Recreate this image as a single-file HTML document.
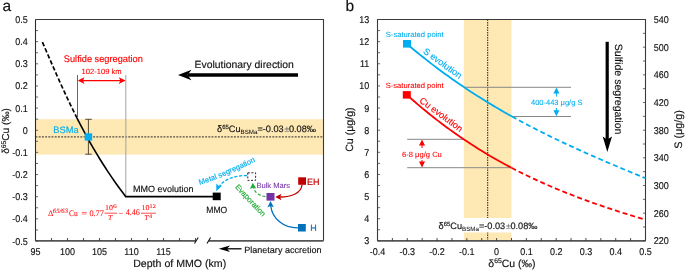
<!DOCTYPE html>
<html><head><meta charset="utf-8"><style>
html,body{margin:0;padding:0;background:#fff;}
svg{display:block;font-family:"Liberation Sans", sans-serif;text-rendering:geometricPrecision;will-change:transform;}
</style></head><body>
<svg width="685" height="271" viewBox="0 0 685 271">
<rect x="35.5" y="119.17" width="288.0" height="35.44" fill="#FEE9B5"/>
<line x1="35.5" y1="136.90" x2="323.5" y2="136.90" stroke="#5a5245" stroke-width="1.2" stroke-dasharray="2,1.2"/>
<path d="M35.5,19.5 H323.5 V240.85" fill="none" stroke="#3a3a3a" stroke-width="1.1"/>
<path d="M35.5,19.5 V240.85" fill="none" stroke="#2a2a2a" stroke-width="1.1"/>
<path d="M323.5,240.85 H208.8 M195.8,240.85 H35.5" fill="none" stroke="#555" stroke-width="1.6"/>
<path d="M194.5,243.5 L198.2,237.5 M207,243.5 L210.6,237.5" stroke="#111" stroke-width="1.1"/>
<line x1="35.50" y1="240.85" x2="35.50" y2="238.04999999999998" stroke="#333" stroke-width="0.9"/>
<line x1="51.50" y1="240.85" x2="51.50" y2="238.04999999999998" stroke="#333" stroke-width="0.9"/>
<line x1="67.50" y1="240.85" x2="67.50" y2="238.04999999999998" stroke="#333" stroke-width="0.9"/>
<line x1="83.50" y1="240.85" x2="83.50" y2="238.04999999999998" stroke="#333" stroke-width="0.9"/>
<line x1="99.50" y1="240.85" x2="99.50" y2="238.04999999999998" stroke="#333" stroke-width="0.9"/>
<line x1="115.50" y1="240.85" x2="115.50" y2="238.04999999999998" stroke="#333" stroke-width="0.9"/>
<line x1="131.50" y1="240.85" x2="131.50" y2="238.04999999999998" stroke="#333" stroke-width="0.9"/>
<line x1="147.50" y1="240.85" x2="147.50" y2="238.04999999999998" stroke="#333" stroke-width="0.9"/>
<line x1="163.50" y1="240.85" x2="163.50" y2="238.04999999999998" stroke="#333" stroke-width="0.9"/>
<line x1="179.50" y1="240.85" x2="179.50" y2="238.04999999999998" stroke="#333" stroke-width="0.9"/>
<line x1="195.50" y1="240.85" x2="195.50" y2="238.04999999999998" stroke="#333" stroke-width="0.9"/>
<line x1="35.5" y1="241.00" x2="38.1" y2="241.00" stroke="#444" stroke-width="0.8"/>
<line x1="35.5" y1="229.93" x2="38.1" y2="229.93" stroke="#444" stroke-width="0.8"/>
<line x1="35.5" y1="218.85" x2="38.1" y2="218.85" stroke="#444" stroke-width="0.8"/>
<line x1="35.5" y1="207.78" x2="38.1" y2="207.78" stroke="#444" stroke-width="0.8"/>
<line x1="35.5" y1="196.70" x2="38.1" y2="196.70" stroke="#444" stroke-width="0.8"/>
<line x1="35.5" y1="185.62" x2="38.1" y2="185.62" stroke="#444" stroke-width="0.8"/>
<line x1="35.5" y1="174.55" x2="38.1" y2="174.55" stroke="#444" stroke-width="0.8"/>
<line x1="35.5" y1="163.47" x2="38.1" y2="163.47" stroke="#444" stroke-width="0.8"/>
<line x1="35.5" y1="152.40" x2="38.1" y2="152.40" stroke="#444" stroke-width="0.8"/>
<line x1="35.5" y1="141.32" x2="38.1" y2="141.32" stroke="#444" stroke-width="0.8"/>
<line x1="35.5" y1="130.25" x2="38.1" y2="130.25" stroke="#444" stroke-width="0.8"/>
<line x1="35.5" y1="119.17" x2="38.1" y2="119.17" stroke="#444" stroke-width="0.8"/>
<line x1="35.5" y1="108.10" x2="38.1" y2="108.10" stroke="#444" stroke-width="0.8"/>
<line x1="35.5" y1="97.03" x2="38.1" y2="97.03" stroke="#444" stroke-width="0.8"/>
<line x1="35.5" y1="85.95" x2="38.1" y2="85.95" stroke="#444" stroke-width="0.8"/>
<line x1="35.5" y1="74.88" x2="38.1" y2="74.88" stroke="#444" stroke-width="0.8"/>
<line x1="35.5" y1="63.80" x2="38.1" y2="63.80" stroke="#444" stroke-width="0.8"/>
<line x1="35.5" y1="52.72" x2="38.1" y2="52.72" stroke="#444" stroke-width="0.8"/>
<line x1="35.5" y1="41.65" x2="38.1" y2="41.65" stroke="#444" stroke-width="0.8"/>
<line x1="35.5" y1="30.58" x2="38.1" y2="30.58" stroke="#444" stroke-width="0.8"/>
<line x1="35.5" y1="19.50" x2="38.1" y2="19.50" stroke="#444" stroke-width="0.8"/>
<text transform="translate(35.50,255) scale(0.91,1)" font-size="9.9" text-anchor="middle" fill="#111" stroke="#111" stroke-width="0.15">95</text>
<text transform="translate(67.50,255) scale(0.91,1)" font-size="9.9" text-anchor="middle" fill="#111" stroke="#111" stroke-width="0.15">100</text>
<text transform="translate(99.50,255) scale(0.91,1)" font-size="9.9" text-anchor="middle" fill="#111" stroke="#111" stroke-width="0.15">105</text>
<text transform="translate(131.50,255) scale(0.91,1)" font-size="9.9" text-anchor="middle" fill="#111" stroke="#111" stroke-width="0.15">110</text>
<text transform="translate(163.50,255) scale(0.91,1)" font-size="9.9" text-anchor="middle" fill="#111" stroke="#111" stroke-width="0.15">115</text>
<text transform="translate(27.7,244.50) scale(0.91,1)" font-size="9.9" text-anchor="end" fill="#111" stroke="#111" stroke-width="0.15">-0.5</text>
<text transform="translate(27.7,222.35) scale(0.91,1)" font-size="9.9" text-anchor="end" fill="#111" stroke="#111" stroke-width="0.15">-0.4</text>
<text transform="translate(27.7,200.20) scale(0.91,1)" font-size="9.9" text-anchor="end" fill="#111" stroke="#111" stroke-width="0.15">-0.3</text>
<text transform="translate(27.7,178.05) scale(0.91,1)" font-size="9.9" text-anchor="end" fill="#111" stroke="#111" stroke-width="0.15">-0.2</text>
<text transform="translate(27.7,155.90) scale(0.91,1)" font-size="9.9" text-anchor="end" fill="#111" stroke="#111" stroke-width="0.15">-0.1</text>
<text transform="translate(27.7,133.75) scale(0.91,1)" font-size="9.9" text-anchor="end" fill="#111" stroke="#111" stroke-width="0.15">0</text>
<text transform="translate(27.7,111.60) scale(0.91,1)" font-size="9.9" text-anchor="end" fill="#111" stroke="#111" stroke-width="0.15">0.1</text>
<text transform="translate(27.7,89.45) scale(0.91,1)" font-size="9.9" text-anchor="end" fill="#111" stroke="#111" stroke-width="0.15">0.2</text>
<text transform="translate(27.7,67.30) scale(0.91,1)" font-size="9.9" text-anchor="end" fill="#111" stroke="#111" stroke-width="0.15">0.3</text>
<text transform="translate(27.7,45.15) scale(0.91,1)" font-size="9.9" text-anchor="end" fill="#111" stroke="#111" stroke-width="0.15">0.4</text>
<text transform="translate(27.7,23.00) scale(0.91,1)" font-size="9.9" text-anchor="end" fill="#111" stroke="#111" stroke-width="0.15">0.5</text>
<text x="179.7" y="266.8" font-size="10.6" text-anchor="middle" fill="#111" stroke="#111" stroke-width="0.15">Depth of MMO (km)</text>
<text transform="translate(9.3,131) rotate(-90)" font-size="10.1" text-anchor="middle" fill="#111" stroke="#111" stroke-width="0.15">δ<tspan font-size="6.8" dy="-3.5">65</tspan><tspan dy="3.5">Cu (‰)</tspan></text>
<text x="2.5" y="11" font-size="15.5" fill="#111" stroke="#111" stroke-width="0.15">a</text>
<line x1="77.5" y1="75" x2="77.5" y2="117" stroke="#555" stroke-width="0.9"/>
<line x1="125.8" y1="75" x2="125.8" y2="196.5" stroke="#aaa" stroke-width="1.1"/>
<text x="63.8" y="62" font-size="9.5" fill="#FF0000" stroke="#FF0000" stroke-width="0.15" textLength="79" lengthAdjust="spacingAndGlyphs">Sulfide segregation</text>
<text x="81.5" y="74" font-size="7.6" fill="#FF0000" stroke="#FF0000" stroke-width="0.08">102-109 km</text>
<line x1="79" y1="80.6" x2="124.5" y2="80.6" stroke="#FF0000" stroke-width="1.2"/>
<path d="M77.8,80.6 L84.5,77.3 L83,80.6 L84.5,83.9 Z M125.5,80.6 L118.8,77.3 L120.3,80.6 L118.8,83.9 Z" fill="#FF0000"/>
<polyline points="42.44,42.20 43.57,44.81 44.71,47.41 45.84,50.02 46.97,52.63 48.10,55.23 49.23,57.84 50.37,60.45 51.50,63.06 52.64,65.66 53.79,68.27 54.93,70.88 56.09,73.48 57.24,76.09 58.41,78.70 59.57,81.30 60.75,83.91 61.93,86.52 63.12,89.12 64.32,91.73 65.53,94.34 66.75,96.94 67.97,99.55 69.21,102.16 70.46,104.77 71.72,107.37 72.99,109.98 74.28,112.59 75.57,115.19 76.88,117.80" stroke="#000" stroke-width="1.7" stroke-dasharray="4.4,2.2" fill="none"/>
<polyline points="76.88,117.80 77.91,119.82 78.95,121.84 79.99,123.86 81.04,125.88 82.10,127.90 83.18,129.92 84.26,131.94 85.35,133.96 86.46,135.98 87.57,138.01 88.70,140.03 89.83,142.05 90.98,144.07 92.14,146.09 93.31,148.11 94.50,150.13 95.69,152.15 96.90,154.17 98.12,156.19 99.36,158.21 100.61,160.23 101.87,162.25 103.15,164.27 104.44,166.29 105.75,168.31 107.07,170.33 108.40,172.35 109.76,174.37 111.12,176.39 112.51,178.42 113.90,180.44 115.32,182.46 116.75,184.48 118.20,186.50 119.66,188.52 121.15,190.54 122.65,192.56 124.16,194.58 125.70,196.60 213,196.6" stroke="#000" stroke-width="1.6" fill="none" stroke-linejoin="miter"/>
<path d="M88.4,119.3 V154.2 M85.2,119.3 H91.8 M85.2,154.2 H91.8" stroke="#4a4028" stroke-width="0.95" fill="none"/>
<rect x="84.7" y="133.3" width="7.5" height="7.3" fill="#00AEEF"/>
<text x="53.3" y="133.1" font-size="9.3" fill="#00AEEF" stroke="#00AEEF" stroke-width="0.15">BSMa</text>
<rect x="212.7" y="192.6" width="8" height="7.6" fill="#000"/>
<text x="133" y="191.6" font-size="9" fill="#111" stroke="#111" stroke-width="0.15">MMO evolution</text>
<text x="206.3" y="212.5" font-size="9" textLength="21" lengthAdjust="spacingAndGlyphs" fill="#111" stroke="#111" stroke-width="0.15">MMO</text>
<text x="194.5" y="68" font-size="10.4" fill="#111" stroke="#111" stroke-width="0.15">Evolutionary direction</text>
<line x1="188" y1="75" x2="298" y2="75" stroke="#000" stroke-width="3.4"/>
<path d="M178,75 L191.5,69.8 L187.5,75 L191.5,80.2 Z" fill="#000"/>
<text x="217" y="132.1" font-size="9.2" fill="#111" stroke="#111" stroke-width="0.15">δ<tspan font-size="6" dy="-3.3">65</tspan><tspan dy="3.3">Cu</tspan><tspan font-size="6.2" dy="2" stroke-width="0.05">BSMa</tspan><tspan dy="-2">=-0.03</tspan><tspan fill="#777" stroke="#777" font-size="8.6" dx="0.8">±</tspan><tspan dx="-0.3">0.08‰</tspan></text>
<g font-family="Liberation Serif, serif" fill="#F22" stroke="#F22" stroke-width="0.12"><text x="48" y="215.6" font-size="8.4">Δ</text><text x="52.8" y="212.8" font-size="6.6" font-style="italic" textLength="15.2" lengthAdjust="spacingAndGlyphs">65/63</text><text x="69" y="215.6" font-size="8.6" textLength="8.8" lengthAdjust="spacingAndGlyphs">Cu</text><text x="81.6" y="215.6" font-size="8.6" textLength="5.6" lengthAdjust="spacingAndGlyphs">=</text><text x="89.4" y="215.6" font-size="8.6" textLength="14.5" lengthAdjust="spacingAndGlyphs">0.77</text><text x="104.9" y="209.8" font-size="7.4" textLength="8" lengthAdjust="spacingAndGlyphs">10</text><text x="113" y="207.6" font-size="5.6" textLength="3.8" lengthAdjust="spacingAndGlyphs">6</text><line x1="104.6" y1="213.2" x2="117" y2="213.2" stroke="#F22" stroke-width="0.8"/><text x="108" y="220.4" font-size="7.6" font-style="italic">T</text><text x="118.8" y="215.6" font-size="8.6" textLength="4.4" lengthAdjust="spacingAndGlyphs">−</text><text x="125.7" y="215.4" font-size="8.6" textLength="14.2" lengthAdjust="spacingAndGlyphs">4.46</text><text x="141.4" y="209.8" font-size="7.4" textLength="8" lengthAdjust="spacingAndGlyphs">10</text><text x="149.6" y="207.6" font-size="5.6" textLength="6.2" lengthAdjust="spacingAndGlyphs">12</text><line x1="141" y1="213.2" x2="156" y2="213.2" stroke="#F22" stroke-width="0.8"/><text x="144.2" y="220.4" font-size="7.6" font-style="italic">T</text><text x="149.2" y="217.8" font-size="5.6">4</text></g>
<text x="244.2" y="252.6" font-size="9.05" fill="#111" stroke="#111" stroke-width="0.15">Planetary accretion</text>
<line x1="226" y1="248.8" x2="241.5" y2="248.8" stroke="#000" stroke-width="1.3"/>
<path d="M218.8,248.8 L230,245.6 L227,248.8 L230,252 Z" fill="#000"/>
<rect x="247.8" y="172.8" width="7.8" height="7.6" fill="none" stroke="#111" stroke-width="0.9" stroke-dasharray="2,1.6"/>
<path d="M247,175.5 C236,175.5 225,178.5 219.5,186" stroke="#00AEEF" stroke-width="1.3" fill="none" stroke-dasharray="3.2,1.6"/>
<path d="M216.3,191.3 L216.3,183.6 L218.6,185.8 L222.2,185.4 Z" fill="#00AEEF"/>
<g font-size="7.6" fill="#00AEEF" stroke="#00AEEF" stroke-width="0.16"><text transform="translate(199.87,185.07) rotate(-18.8)">M</text><text transform="translate(205.82,183.03) rotate(-20.0)">e</text><text transform="translate(209.90,181.54) rotate(-20.6)">t</text><text transform="translate(211.87,180.80) rotate(-21.1)">a</text><text transform="translate(215.74,179.30) rotate(-21.6)">l</text><text transform="translate(219.28,177.89) rotate(-22.3)">s</text><text transform="translate(222.92,176.39) rotate(-22.9)">e</text><text transform="translate(226.73,174.78) rotate(-23.4)">g</text><text transform="translate(230.56,173.12) rotate(-23.8)">r</text><text transform="translate(232.89,172.10) rotate(-24.2)">e</text><text transform="translate(236.85,170.32) rotate(-24.6)">g</text><text transform="translate(240.68,168.56) rotate(-25.0)">a</text><text transform="translate(244.45,166.81) rotate(-25.3)">t</text><text transform="translate(246.35,165.91) rotate(-25.4)">i</text><text transform="translate(247.88,165.19) rotate(-25.7)">o</text><text transform="translate(251.77,163.31) rotate(-26.0)">n</text></g>
<path d="M265.5,196.5 C258,196 254,191 253.2,187" stroke="#22AC38" stroke-width="1.2" fill="none" stroke-dasharray="3,2"/>
<path d="M252.8,182.8 L249.8,189 L252.8,187.8 L256.2,188.6 Z" fill="#22AC38"/>
<g stroke="#22AC38" stroke-width="0.2"><text transform="translate(234.8,187.3) rotate(47)" font-size="7.6" fill="#22AC38" stroke="#22AC38" stroke-width="0.2">Evaporation</text></g>
<text x="256.4" y="187.9" font-size="7.6" fill="#7432A6" stroke="#7432A6" stroke-width="0.08">Bulk Mars</text>
<rect x="266.5" y="193" width="8" height="7.6" fill="#7432A6"/>
<rect x="298.2" y="177.3" width="7.8" height="7.5" fill="#C00000"/>
<text x="307" y="184.5" font-size="9" fill="#C00000" stroke="#C00000" stroke-width="0.15">EH</text>
<path d="M302,185 C301,193 292,197 280,197" stroke="#C00000" stroke-width="1.3" fill="none"/>
<path d="M275.2,197 L281.5,193.8 L280,197 L281.5,200.2 Z" fill="#C00000"/>
<rect x="298" y="224" width="7.8" height="7.5" fill="#0072BC"/>
<text x="310.3" y="230.8" font-size="9" fill="#0072BC" stroke="#0072BC" stroke-width="0.15">H</text>
<path d="M298,227.8 C283,228 272,218 270.8,206" stroke="#0072BC" stroke-width="1.3" fill="none"/>
<path d="M270.5,201 L267.4,207.5 L270.6,206 L273.8,207.3 Z" fill="#0072BC"/>
<rect x="463.86" y="19.5" width="47.64" height="221.35" fill="#FEE9B5"/>
<line x1="487.68" y1="19.5" x2="487.68" y2="240.85" stroke="#2a2a2a" stroke-width="1.05" stroke-dasharray="1.6,0.9"/>
<rect x="437" y="218" width="102" height="14.5" fill="#fff"/>
<text x="438.5" y="229.1" font-size="9.2" fill="#111" stroke="#111" stroke-width="0.15">δ<tspan font-size="6" dy="-3.3">65</tspan><tspan dy="3.3">Cu</tspan><tspan font-size="6.2" dy="2" stroke-width="0.05">BSMa</tspan><tspan dy="-2">=-0.03</tspan><tspan fill="#777" stroke="#777" font-size="8.6" dx="0.8">±</tspan><tspan dx="-0.3">0.08‰</tspan></text>
<path d="M377.5,240.85 V19.5 H645.5 V240.85" fill="none" stroke="#3a3a3a" stroke-width="1.1"/>
<path d="M645.5,240.85 H377.5" fill="none" stroke="#555" stroke-width="1.6"/>
<line x1="377.50" y1="240.85" x2="377.50" y2="238.04999999999998" stroke="#333" stroke-width="0.9"/>
<line x1="392.39" y1="240.85" x2="392.39" y2="238.04999999999998" stroke="#333" stroke-width="0.9"/>
<line x1="407.28" y1="240.85" x2="407.28" y2="238.04999999999998" stroke="#333" stroke-width="0.9"/>
<line x1="422.17" y1="240.85" x2="422.17" y2="238.04999999999998" stroke="#333" stroke-width="0.9"/>
<line x1="437.06" y1="240.85" x2="437.06" y2="238.04999999999998" stroke="#333" stroke-width="0.9"/>
<line x1="451.94" y1="240.85" x2="451.94" y2="238.04999999999998" stroke="#333" stroke-width="0.9"/>
<line x1="466.83" y1="240.85" x2="466.83" y2="238.04999999999998" stroke="#333" stroke-width="0.9"/>
<line x1="481.72" y1="240.85" x2="481.72" y2="238.04999999999998" stroke="#333" stroke-width="0.9"/>
<line x1="496.61" y1="240.85" x2="496.61" y2="238.04999999999998" stroke="#333" stroke-width="0.9"/>
<line x1="511.50" y1="240.85" x2="511.50" y2="238.04999999999998" stroke="#333" stroke-width="0.9"/>
<line x1="526.39" y1="240.85" x2="526.39" y2="238.04999999999998" stroke="#333" stroke-width="0.9"/>
<line x1="541.28" y1="240.85" x2="541.28" y2="238.04999999999998" stroke="#333" stroke-width="0.9"/>
<line x1="556.17" y1="240.85" x2="556.17" y2="238.04999999999998" stroke="#333" stroke-width="0.9"/>
<line x1="571.06" y1="240.85" x2="571.06" y2="238.04999999999998" stroke="#333" stroke-width="0.9"/>
<line x1="585.94" y1="240.85" x2="585.94" y2="238.04999999999998" stroke="#333" stroke-width="0.9"/>
<line x1="600.83" y1="240.85" x2="600.83" y2="238.04999999999998" stroke="#333" stroke-width="0.9"/>
<line x1="615.72" y1="240.85" x2="615.72" y2="238.04999999999998" stroke="#333" stroke-width="0.9"/>
<line x1="630.61" y1="240.85" x2="630.61" y2="238.04999999999998" stroke="#333" stroke-width="0.9"/>
<line x1="645.50" y1="240.85" x2="645.50" y2="238.04999999999998" stroke="#333" stroke-width="0.9"/>
<line x1="377.5" y1="240.85" x2="380.1" y2="240.85" stroke="#444" stroke-width="0.8"/>
<line x1="377.5" y1="229.78" x2="380.1" y2="229.78" stroke="#444" stroke-width="0.8"/>
<line x1="377.5" y1="218.72" x2="380.1" y2="218.72" stroke="#444" stroke-width="0.8"/>
<line x1="377.5" y1="207.65" x2="380.1" y2="207.65" stroke="#444" stroke-width="0.8"/>
<line x1="377.5" y1="196.58" x2="380.1" y2="196.58" stroke="#444" stroke-width="0.8"/>
<line x1="377.5" y1="185.51" x2="380.1" y2="185.51" stroke="#444" stroke-width="0.8"/>
<line x1="377.5" y1="174.44" x2="380.1" y2="174.44" stroke="#444" stroke-width="0.8"/>
<line x1="377.5" y1="163.38" x2="380.1" y2="163.38" stroke="#444" stroke-width="0.8"/>
<line x1="377.5" y1="152.31" x2="380.1" y2="152.31" stroke="#444" stroke-width="0.8"/>
<line x1="377.5" y1="141.24" x2="380.1" y2="141.24" stroke="#444" stroke-width="0.8"/>
<line x1="377.5" y1="130.18" x2="380.1" y2="130.18" stroke="#444" stroke-width="0.8"/>
<line x1="377.5" y1="119.11" x2="380.1" y2="119.11" stroke="#444" stroke-width="0.8"/>
<line x1="377.5" y1="108.04" x2="380.1" y2="108.04" stroke="#444" stroke-width="0.8"/>
<line x1="377.5" y1="96.97" x2="380.1" y2="96.97" stroke="#444" stroke-width="0.8"/>
<line x1="377.5" y1="85.91" x2="380.1" y2="85.91" stroke="#444" stroke-width="0.8"/>
<line x1="377.5" y1="74.84" x2="380.1" y2="74.84" stroke="#444" stroke-width="0.8"/>
<line x1="377.5" y1="63.77" x2="380.1" y2="63.77" stroke="#444" stroke-width="0.8"/>
<line x1="377.5" y1="52.70" x2="380.1" y2="52.70" stroke="#444" stroke-width="0.8"/>
<line x1="377.5" y1="41.64" x2="380.1" y2="41.64" stroke="#444" stroke-width="0.8"/>
<line x1="377.5" y1="30.57" x2="380.1" y2="30.57" stroke="#444" stroke-width="0.8"/>
<line x1="377.5" y1="19.50" x2="380.1" y2="19.50" stroke="#444" stroke-width="0.8"/>
<line x1="645.5" y1="240.85" x2="642.9" y2="240.85" stroke="#444" stroke-width="0.8"/>
<line x1="645.5" y1="227.02" x2="642.9" y2="227.02" stroke="#444" stroke-width="0.8"/>
<line x1="645.5" y1="213.18" x2="642.9" y2="213.18" stroke="#444" stroke-width="0.8"/>
<line x1="645.5" y1="199.35" x2="642.9" y2="199.35" stroke="#444" stroke-width="0.8"/>
<line x1="645.5" y1="185.51" x2="642.9" y2="185.51" stroke="#444" stroke-width="0.8"/>
<line x1="645.5" y1="171.68" x2="642.9" y2="171.68" stroke="#444" stroke-width="0.8"/>
<line x1="645.5" y1="157.84" x2="642.9" y2="157.84" stroke="#444" stroke-width="0.8"/>
<line x1="645.5" y1="144.01" x2="642.9" y2="144.01" stroke="#444" stroke-width="0.8"/>
<line x1="645.5" y1="130.18" x2="642.9" y2="130.18" stroke="#444" stroke-width="0.8"/>
<line x1="645.5" y1="116.34" x2="642.9" y2="116.34" stroke="#444" stroke-width="0.8"/>
<line x1="645.5" y1="102.51" x2="642.9" y2="102.51" stroke="#444" stroke-width="0.8"/>
<line x1="645.5" y1="88.67" x2="642.9" y2="88.67" stroke="#444" stroke-width="0.8"/>
<line x1="645.5" y1="74.84" x2="642.9" y2="74.84" stroke="#444" stroke-width="0.8"/>
<line x1="645.5" y1="61.00" x2="642.9" y2="61.00" stroke="#444" stroke-width="0.8"/>
<line x1="645.5" y1="47.17" x2="642.9" y2="47.17" stroke="#444" stroke-width="0.8"/>
<line x1="645.5" y1="33.33" x2="642.9" y2="33.33" stroke="#444" stroke-width="0.8"/>
<line x1="645.5" y1="19.50" x2="642.9" y2="19.50" stroke="#444" stroke-width="0.8"/>
<text transform="translate(377.50,255) scale(0.91,1)" font-size="9.9" text-anchor="middle" fill="#111" stroke="#111" stroke-width="0.15">-0.4</text>
<text transform="translate(407.28,255) scale(0.91,1)" font-size="9.9" text-anchor="middle" fill="#111" stroke="#111" stroke-width="0.15">-0.3</text>
<text transform="translate(437.06,255) scale(0.91,1)" font-size="9.9" text-anchor="middle" fill="#111" stroke="#111" stroke-width="0.15">-0.2</text>
<text transform="translate(466.83,255) scale(0.91,1)" font-size="9.9" text-anchor="middle" fill="#111" stroke="#111" stroke-width="0.15">-0.1</text>
<text transform="translate(496.61,255) scale(0.91,1)" font-size="9.9" text-anchor="middle" fill="#111" stroke="#111" stroke-width="0.15">0</text>
<text transform="translate(526.39,255) scale(0.91,1)" font-size="9.9" text-anchor="middle" fill="#111" stroke="#111" stroke-width="0.15">0.1</text>
<text transform="translate(556.17,255) scale(0.91,1)" font-size="9.9" text-anchor="middle" fill="#111" stroke="#111" stroke-width="0.15">0.2</text>
<text transform="translate(585.94,255) scale(0.91,1)" font-size="9.9" text-anchor="middle" fill="#111" stroke="#111" stroke-width="0.15">0.3</text>
<text transform="translate(615.72,255) scale(0.91,1)" font-size="9.9" text-anchor="middle" fill="#111" stroke="#111" stroke-width="0.15">0.4</text>
<text transform="translate(645.50,255) scale(0.91,1)" font-size="9.9" text-anchor="middle" fill="#111" stroke="#111" stroke-width="0.15">0.5</text>
<text transform="translate(369.3,244.35) scale(0.91,1)" font-size="9.9" text-anchor="end" fill="#111" stroke="#111" stroke-width="0.15">3</text>
<text transform="translate(369.3,222.22) scale(0.91,1)" font-size="9.9" text-anchor="end" fill="#111" stroke="#111" stroke-width="0.15">4</text>
<text transform="translate(369.3,200.08) scale(0.91,1)" font-size="9.9" text-anchor="end" fill="#111" stroke="#111" stroke-width="0.15">5</text>
<text transform="translate(369.3,177.94) scale(0.91,1)" font-size="9.9" text-anchor="end" fill="#111" stroke="#111" stroke-width="0.15">6</text>
<text transform="translate(369.3,155.81) scale(0.91,1)" font-size="9.9" text-anchor="end" fill="#111" stroke="#111" stroke-width="0.15">7</text>
<text transform="translate(369.3,133.68) scale(0.91,1)" font-size="9.9" text-anchor="end" fill="#111" stroke="#111" stroke-width="0.15">8</text>
<text transform="translate(369.3,111.54) scale(0.91,1)" font-size="9.9" text-anchor="end" fill="#111" stroke="#111" stroke-width="0.15">9</text>
<text transform="translate(369.3,89.41) scale(0.91,1)" font-size="9.9" text-anchor="end" fill="#111" stroke="#111" stroke-width="0.15">10</text>
<text transform="translate(369.3,67.27) scale(0.91,1)" font-size="9.9" text-anchor="end" fill="#111" stroke="#111" stroke-width="0.15">11</text>
<text transform="translate(369.3,45.14) scale(0.91,1)" font-size="9.9" text-anchor="end" fill="#111" stroke="#111" stroke-width="0.15">12</text>
<text transform="translate(369.3,23.00) scale(0.91,1)" font-size="9.9" text-anchor="end" fill="#111" stroke="#111" stroke-width="0.15">13</text>
<text transform="translate(653.8,244.35) scale(0.91,1)" font-size="9.9" fill="#111" stroke="#111" stroke-width="0.15">220</text>
<text transform="translate(653.8,216.68) scale(0.91,1)" font-size="9.9" fill="#111" stroke="#111" stroke-width="0.15">260</text>
<text transform="translate(653.8,189.01) scale(0.91,1)" font-size="9.9" fill="#111" stroke="#111" stroke-width="0.15">300</text>
<text transform="translate(653.8,161.34) scale(0.91,1)" font-size="9.9" fill="#111" stroke="#111" stroke-width="0.15">340</text>
<text transform="translate(653.8,133.68) scale(0.91,1)" font-size="9.9" fill="#111" stroke="#111" stroke-width="0.15">380</text>
<text transform="translate(653.8,106.01) scale(0.91,1)" font-size="9.9" fill="#111" stroke="#111" stroke-width="0.15">420</text>
<text transform="translate(653.8,78.34) scale(0.91,1)" font-size="9.9" fill="#111" stroke="#111" stroke-width="0.15">460</text>
<text transform="translate(653.8,50.67) scale(0.91,1)" font-size="9.9" fill="#111" stroke="#111" stroke-width="0.15">500</text>
<text transform="translate(653.8,23.00) scale(0.91,1)" font-size="9.9" fill="#111" stroke="#111" stroke-width="0.15">540</text>
<text x="345.5" y="11" font-size="15.5" fill="#111" stroke="#111" stroke-width="0.15">b</text>
<text x="512" y="267" font-size="10.5" text-anchor="middle" fill="#111" stroke="#111" stroke-width="0.15">δ<tspan font-size="6.8" dy="-3.8">65</tspan><tspan dy="3.8">Cu (‰)</tspan></text>
<text transform="translate(352.6,129.6) rotate(-90)" font-size="10.6" text-anchor="middle" fill="#111" stroke="#111" stroke-width="0.15">Cu (μg/g)</text>
<text transform="translate(681.9,129.4) rotate(-90)" font-size="10.8" text-anchor="middle" fill="#111" stroke="#111" stroke-width="0.15">S (μg/g)</text>
<path d="M464,87.3 H571 M512,116.5 H571 M407.2,139.3 H464 M407.2,167.7 H511.5" stroke="#888" stroke-width="1" fill="none"/>
<polyline points="407.00,43.97 409.69,46.25 412.38,48.50 415.08,50.73 417.77,52.94 420.46,55.11 423.15,57.27 425.85,59.40 428.54,61.50 431.23,63.59 433.92,65.65 436.62,67.68 439.31,69.69 442.00,71.69 444.69,73.65 447.38,75.60 450.08,77.53 452.77,79.43 455.46,81.31 458.15,83.17 460.85,85.01 463.54,86.84 466.23,88.64 468.92,90.42 471.62,92.18 474.31,93.92 477.00,95.65 479.69,97.35 482.38,99.04 485.08,100.71 487.77,102.36 490.46,103.99 493.15,105.61 495.85,107.21 498.54,108.80 501.23,110.36 503.92,111.91 506.62,113.45 509.31,114.97 512.00,116.48" stroke="#00AEEF" stroke-width="1.8" fill="none"/>
<polyline points="512.00,116.48 514.72,117.98 517.45,119.48 520.17,120.96 522.90,122.42 525.62,123.87 528.35,125.31 531.07,126.73 533.80,128.14 536.52,129.54 539.24,130.92 541.97,132.29 544.69,133.65 547.42,135.00 550.14,136.34 552.87,137.67 555.59,138.98 558.32,140.29 561.04,141.58 563.77,142.86 566.49,144.14 569.21,145.41 571.94,146.66 574.66,147.91 577.39,149.15 580.11,150.38 582.84,151.60 585.56,152.82 588.29,154.03 591.01,155.23 593.73,156.42 596.46,157.61 599.18,158.79 601.91,159.97 604.63,161.14 607.36,162.31 610.08,163.47 612.81,164.62 615.53,165.78 618.26,166.92 620.98,168.07 623.70,169.21 626.43,170.34 629.15,171.48 631.88,172.61 634.60,173.74 637.33,174.87 640.05,175.99 642.78,177.12 645.50,178.24" stroke="#00AEEF" stroke-width="1.8" fill="none" stroke-dasharray="5,3"/>
<rect x="403" y="40" width="8" height="7.6" fill="#00AEEF"/>
<text x="385.8" y="37" font-size="7.6" fill="#00AEEF" stroke="#00AEEF" stroke-width="0.08">S-saturated point</text>
<text transform="translate(422.4,52.4) rotate(36)" font-size="9.2" fill="#00AEEF" stroke="#00AEEF" stroke-width="0.15">S evolution</text>
<polyline points="407.00,94.95 409.68,97.35 412.36,99.71 415.04,102.04 417.72,104.34 420.40,106.60 423.08,108.84 425.76,111.05 428.44,113.23 431.12,115.38 433.79,117.50 436.47,119.59 439.15,121.66 441.83,123.69 444.51,125.70 447.19,127.68 449.87,129.64 452.55,131.56 455.23,133.46 457.91,135.34 460.59,137.18 463.27,139.01 465.95,140.80 468.63,142.58 471.31,144.33 473.99,146.05 476.67,147.75 479.35,149.42 482.03,151.08 484.71,152.70 487.38,154.31 490.06,155.90 492.74,157.46 495.42,159.00 498.10,160.51 500.78,162.01 503.46,163.49 506.14,164.94 508.82,166.38 511.50,167.79" stroke="#FF0000" stroke-width="1.8" fill="none"/>
<polyline points="511.50,167.79 514.23,169.22 516.97,170.62 519.70,172.00 522.44,173.37 525.17,174.71 527.91,176.04 530.64,177.35 533.38,178.64 536.11,179.91 538.85,181.16 541.58,182.40 544.32,183.62 547.05,184.82 549.79,186.01 552.52,187.18 555.26,188.33 557.99,189.47 560.72,190.60 563.46,191.70 566.19,192.80 568.93,193.88 571.66,194.95 574.40,196.00 577.13,197.05 579.87,198.07 582.60,199.09 585.34,200.10 588.07,201.09 590.81,202.07 593.54,203.04 596.28,204.00 599.01,204.95 601.74,205.89 604.48,206.82 607.21,207.74 609.95,208.65 612.68,209.55 615.42,210.44 618.15,211.33 620.89,212.20 623.62,213.07 626.36,213.94 629.09,214.79 631.83,215.64 634.56,216.49 637.30,217.32 640.03,218.16 642.77,218.98 645.50,219.80" stroke="#FF0000" stroke-width="1.8" fill="none" stroke-dasharray="5,3"/>
<rect x="402.8" y="91.1" width="8" height="7.5" fill="#FF0000"/>
<text x="385.7" y="87.8" font-size="7.6" fill="#FF0000" stroke="#FF0000" stroke-width="0.08">S-saturated point</text>
<text transform="translate(418.8,101.8) rotate(36.5)" font-size="9.2" fill="#FF0000" stroke="#FF0000" stroke-width="0.15">Cu evolution</text>
<path d="M556.4,93 V96.5 M556.4,108 V111" stroke="#00AEEF" stroke-width="1"/>
<path d="M556.4,87.6 L553.4,93.5 L559.4,93.5 Z M556.4,116.2 L553.4,110.3 L559.4,110.3 Z" fill="#00AEEF"/>
<text x="531" y="104.8" font-size="7.5" fill="#00AEEF" stroke="#00AEEF" stroke-width="0.08">400-443 μg/g S</text>
<path d="M422,145 V148 M422,160 V162" stroke="#FF0000" stroke-width="1"/>
<path d="M422,139.6 L419,145.5 L425,145.5 Z M422,167.4 L419,161.5 L425,161.5 Z" fill="#FF0000"/>
<text x="402" y="157" font-size="7.6" fill="#FF0000" stroke="#FF0000" stroke-width="0.08">6-8 μg/g Cu</text>
<line x1="607.2" y1="41.8" x2="607.2" y2="140" stroke="#000" stroke-width="3.2"/>
<path d="M607.3,152 L602.7,136.5 L607.3,139.5 L612,136.5 Z" fill="#000"/>
<text transform="translate(614.9,43.8) rotate(90)" font-size="10.6" fill="#111" stroke="#111" stroke-width="0.15">Sulfide segregation</text>
</svg>
</body></html>
